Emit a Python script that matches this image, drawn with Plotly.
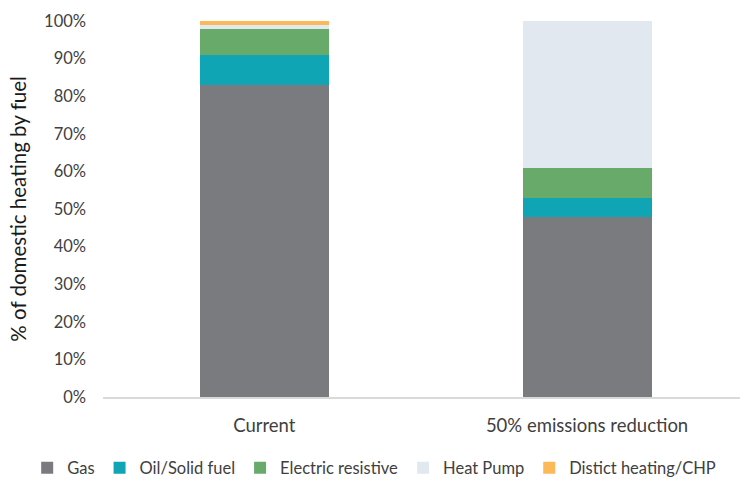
import plotly.graph_objects as go

# Share of domestic heating by fuel, per scenario
scenarios = ["Current", "50% emissions reduction"]
fuels = ["Gas", "Oil/Solid fuel", "Electric resistive", "Heat Pump", "Distict heating/CHP"]
gas = [0.83, 0.48]
oil_solid = [0.08, 0.05]
electric_resistive = [0.07, 0.08]
heat_pump = [0.01, 0.39]
district_heating = [0.01, 0.0]

series = [gas, oil_solid, electric_resistive, heat_pump, district_heating]
colors = ["#7a7b7f", "#10a5b4", "#67aa6a", "#e1e8f0", "#fbb95a"]

FONT = "Lato, Open Sans, sans-serif"
TXT = "#404040"

x_pos = list(range(len(scenarios)))

fig = go.Figure()
for name, vals, col in zip(fuels, series, colors):
    fig.add_trace(go.Bar(
        x=x_pos, y=vals, name=name, width=0.4,
        marker=dict(color=col, line=dict(width=0)),
    ))

fig.update_layout(
    barmode="stack",
    width=740, height=483,
    margin=dict(l=103, r=0, t=21, b=86, autoexpand=False),
    paper_bgcolor="white", plot_bgcolor="white",
    font=dict(family=FONT, size=16, color=TXT),
    showlegend=True,
    legend=dict(
        orientation="h",
        x=-0.119, xanchor="left", y=-0.189, yanchor="middle",
        font=dict(size=16.5, color=TXT), itemwidth=30, traceorder="normal",
        tracegroupgap=0,
    ),
    bargap=0,
)

fig.update_xaxes(
    tickmode="array", tickvals=x_pos, ticktext=scenarios,
    range=[-0.5, 1.474], showgrid=False, zeroline=False,
    showline=True, linecolor="#d9d9d9", linewidth=1.5,
    ticks="", ticklabelstandoff=11, tickfont=dict(size=18.5, color=TXT),
)
fig.update_yaxes(
    range=[0, 1.0], tickformat=".0%", dtick=0.1,
    showgrid=False, zeroline=False, showline=False,
    ticks="", ticklabelstandoff=16, tickfont=dict(size=16.5, color=TXT),
)

fig.add_annotation(
    text="% of domestic heating by fuel", textangle=-90,
    xref="paper", yref="paper", x=-0.134, y=0.5,
    xanchor="center", yanchor="middle", showarrow=False,
    font=dict(size=20.5, color="#1a1a1a", family=FONT),
)

fig.write_html("out.html")
